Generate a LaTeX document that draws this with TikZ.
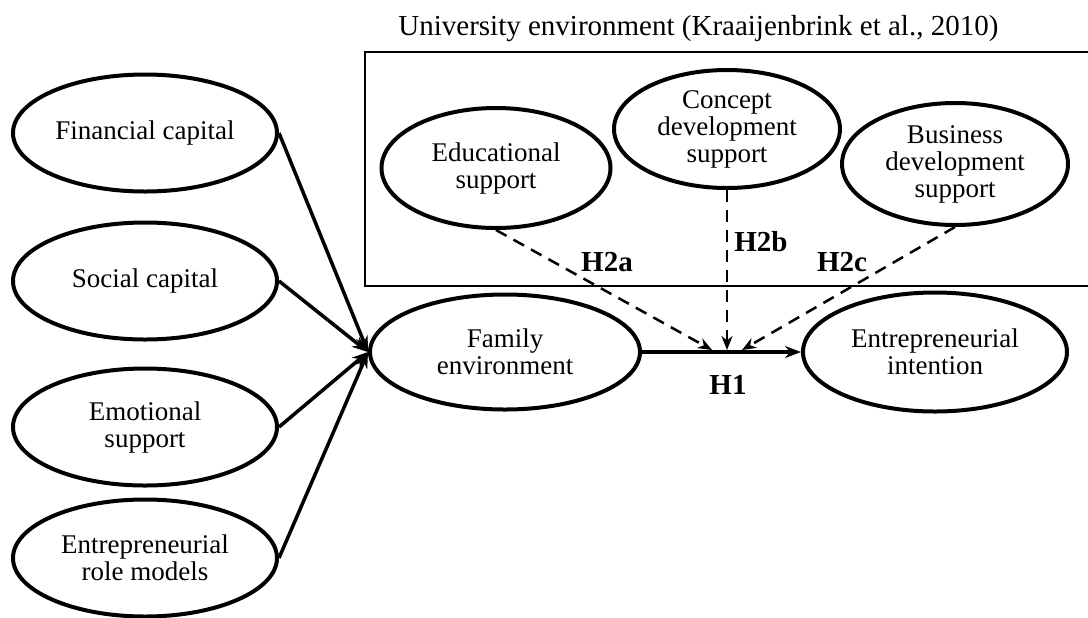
\documentclass[tikz,border=0pt]{standalone}
\usepackage{fontspec}
\setmainfont{Liberation Serif}
\usepackage{tikz}
\usetikzlibrary{arrows.meta, shapes.geometric}
\tikzstyle{fleche} = [->,>={Stealth[length=8pt,width=6pt]},line width=1.75pt]
\tikzstyle{tirets} = [->,>={Stealth[length=7pt,width=5.5pt]},line width=1.25pt,dash pattern=on 6pt off 4pt]
\tikzstyle{bulle} = [ellipse,draw,line width=2pt,inner sep=0pt,align=center,font=\fontsize{13.5}{13.5}\selectfont]
\tikzstyle{gauche} = [bulle,minimum width=132pt,minimum height=58.5pt]
\tikzstyle{hyp} = [inner sep=0pt,font=\fontsize{14.5}{15}\selectfont\bfseries]

\begin{document}
\begin{tikzpicture}[x=0.5pt,y=-0.5pt]
\useasboundingbox (0,0) rectangle (1088,617);

%% Les quatre construits a gauche
	\node[gauche] (fin) at (145,133) {Financial capital};
	\node[gauche] (soc) at (145,281) {Social capital};
	\node[gauche] (emo) at (145,427) {Emotional\\support};
	\node[gauche] (role) at (145,558) {Entrepreneurial\\role models};

%% Famille et intention
	\node[bulle,minimum width=135pt,minimum height=57.5pt] (fam) at (505,352) {Family\\environment};
	\node[bulle,minimum width=132pt,minimum height=59.5pt] (int) at (935,352) {Entrepreneurial\\intention};

%% Cadre universite
	\node[anchor=base west,inner sep=0pt,font=\fontsize{14.5}{14.5}\selectfont] (titre) at (398,35) {University environment (Kraaijenbrink et al., 2010)};
	\draw[line width=1pt] (365,52) rectangle (1094,286);

	\node[bulle,minimum width=114.5pt,minimum height=60pt] (edu) at (496,168) {Educational\\support};
	\node[bulle,minimum width=113pt,minimum height=59pt] (conc) at (727,129) {Concept\\development\\support};
	\node[bulle,minimum width=113pt,minimum height=61pt] (bus) at (955,164) {Business\\development\\support};

%% Fleches vers famille
	\draw[fleche] (fin.east) -- (fam.west);
	\draw[fleche] (soc.east) -- (fam.west);
	\draw[fleche] (emo.east) -- (fam.west);
	\draw[fleche] (role.east) -- (fam.west);

%% H1
	\draw[fleche] (fam.east) -- (int.west);
	\node[hyp] (h1) at (728,385) {H1};

%% Moderation (H2)
	\coordinate (j2a) at (712,350);
	\coordinate (j2b) at (727,350);
	\coordinate (j2c) at (742,350);

	\draw[tirets] (edu.south) -- (j2a);
	\draw[tirets] (conc.south) -- (j2b);
	\draw[tirets] (bus.south) -- (j2c);

	\node[hyp] (h2a) at (607,262) {H2a};
	\node[hyp] (h2b) at (761,242) {H2b};
	\node[hyp] (h2c) at (842,262) {H2c};

\end{tikzpicture}
\end{document}
